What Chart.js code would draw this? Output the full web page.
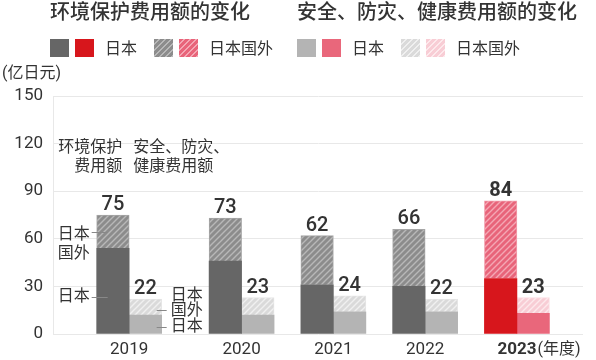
<!DOCTYPE html>
<html lang="zh">
<head>
<meta charset="utf-8">
<title>环境保护费用额的变化</title>
<script src="https://cdn.jsdelivr.net/npm/chart.js@4"></script>
<style>
  body { margin: 0; background: #fff; font-family: Roboto, "Noto Sans CJK SC", sans-serif; color: #333; }
  #wrap { position: relative; width: 596px; height: 360px; overflow: hidden; }
  #chart { position: absolute; left: 0; top: 0; }
  .title { position: absolute; top: 0; font-size: 20px; font-weight: 500; line-height: 24px; white-space: nowrap; }
  .legend { position: absolute; top: 39px; height: 18px; display: flex; align-items: center; font-size: 16px; line-height: 20px; white-space: nowrap; }
  .sw { width: 19px; height: 18px; margin-right: 6px; }
  .lbl { margin-left: 5px; margin-right: 17px; position: relative; top: 1px; }
  #unit { position: absolute; left: 2px; top: 64px; font-size: 16px; line-height: 18px; }
</style>
</head>
<body>
<div id="wrap">
  <canvas id="chart" width="596" height="360"></canvas>

  <div class="title" style="left:50px">环境保护费用额的变化</div>
  <div class="title" style="left:297px">安全、防灾、健康费用额的变化</div>

  <div class="legend" style="left:50px">
    <div class="sw" style="background:#666666"></div>
    <div class="sw" style="background:#d7161c"></div>
    <span class="lbl">日本</span>
    <div class="sw" style="background:repeating-linear-gradient(135deg,#8c8c8c 0 3px,#b8b8b8 3px 4.3px)"></div>
    <div class="sw" style="background:repeating-linear-gradient(135deg,#e8647a 0 3px,#f4a7b4 3px 4.3px)"></div>
    <span class="lbl">日本国外</span>
  </div>
  <div class="legend" style="left:297px">
    <div class="sw" style="background:#b4b4b4"></div>
    <div class="sw" style="background:#e9677b"></div>
    <span class="lbl">日本</span>
    <div class="sw" style="background:repeating-linear-gradient(135deg,#dadada 0 3px,#f0f0f0 3px 4.3px)"></div>
    <div class="sw" style="background:repeating-linear-gradient(135deg,#f8cdd5 0 3px,#fde9ec 3px 4.3px)"></div>
    <span class="lbl">日本国外</span>
  </div>

  <div id="unit">(亿日元)</div>
</div>

<script>
// ─── Data (亿日元) ───
const years = ['2019', '2020', '2021', '2022', '2023'];
const envJapan = [54, 46, 31, 30, 35];
const envOverseas = [21, 27, 31, 36, 49];
const envTotal = [75, 73, 62, 66, 84];
const safetyJapan = [12, 12, 14, 14, 13];
const safetyOverseas = [10, 11, 10, 8, 10];
const safetyTotal = [22, 23, 24, 22, 23];
const yTicks = [0, 30, 60, 90, 120, 150];

// ─── Layout helpers ───
const FONT = 'Roboto, "Noto Sans CJK SC", sans-serif';
const hi = years.length - 1;          // 2023 is drawn in red
const calloutGap = 0.225;             // extra room after 2019 for the callout labels
const slotX = i => (i === 0 ? 0 : i + calloutGap);
const pts = arr => arr.map((v, i) => ({ x: slotX(i), y: v }));

Chart.defaults.font.family = FONT;
Chart.defaults.color = '#333';

const canvas = document.getElementById('chart');
const ctx = canvas.getContext('2d');

function hatch(base, stripe) {
  const s = 6;
  const c = document.createElement('canvas');
  c.width = s; c.height = s;
  const g = c.getContext('2d');
  g.fillStyle = base;
  g.fillRect(0, 0, s, s);
  g.strokeStyle = stripe;
  g.lineWidth = 1.4;
  g.beginPath();
  g.moveTo(0, s); g.lineTo(s, 0);
  g.moveTo(-1, 1); g.lineTo(1, -1);
  g.moveTo(s - 1, s + 1); g.lineTo(s + 1, s - 1);
  g.stroke();
  return ctx.createPattern(c, 'repeat');
}

const pick = (normal, red) => c => (c.dataIndex === hi ? red : normal);

// ─── Labels drawn on the canvas ───
const labelsPlugin = {
  id: 'labels',
  afterDatasetsDraw(chart) {
    const g = chart.ctx;
    const bar = (d, i) => chart.getDatasetMeta(d).data[i];
    g.save();
    g.fillStyle = '#333';

    // totals above the bars
    g.textAlign = 'center';
    g.textBaseline = 'alphabetic';
    years.forEach((y, i) => {
      g.font = `${i === hi ? 'bold' : '500'} 20px ${FONT}`;
      const e = bar(1, i), s = bar(3, i);
      g.fillText(envTotal[i], e.x, e.y - 5);
      g.fillText(safetyTotal[i], s.x, s.y - 5);
    });

    // series names above 2019
    g.font = `16px ${FONT}`;
    g.textBaseline = 'middle';
    const top = chart.chartArea.top;
    const e0 = bar(0, 0), s0 = bar(2, 0);
    const groupX = e0.x + e0.width / 2;
    g.textAlign = 'right';
    g.fillText('环境保护', groupX - 7, top + 52);
    g.fillText('费用额', groupX - 7, top + 71);
    g.textAlign = 'left';
    g.fillText('安全、防灾、', groupX + 4, top + 52);
    g.fillText('健康费用额', groupX + 4, top + 71);

    // callouts on the 2019 bars
    g.strokeStyle = '#888';
    g.lineWidth = 1;
    const line = (x1, x2, y) => {
      g.beginPath();
      g.moveTo(x1, Math.round(y) + 0.5);
      g.lineTo(x2, Math.round(y) + 0.5);
      g.stroke();
    };
    const left = e0.x - e0.width / 2;
    const envTop = e0.y;
    g.textAlign = 'right';
    line(left - 5, left + 11, envTop - 16);
    g.fillText('日本', left - 7, envTop - 13);
    g.fillText('国外', left - 7, envTop + 6);
    line(left - 5, left + 11, e0.base - 37);
    g.fillText('日本', left - 7, e0.base - 37);

    const right = s0.x + s0.width / 2;
    const sTop = s0.y;
    g.textAlign = 'left';
    g.fillText('日本', right + 9, sTop - 19);
    line(right - 5, right + 5, sTop - 5);
    g.fillText('国外', right + 9, sTop - 4);
    line(right - 5, right + 5, sTop + 12);
    g.fillText('日本', right + 9, sTop + 12);

    // year unit after 2023
    const xs = chart.scales.x;
    g.font = `bold 17px ${FONT}`;
    const w = g.measureText(years[hi]).width;
    g.font = `16px ${FONT}`;
    g.textBaseline = 'top';
    g.fillText('(年度)', xs.getPixelForValue(slotX(hi)) + w / 2 + 1, xs.top + 8);
    g.restore();
  }
};

new Chart(ctx, {
  type: 'bar',
  data: {
    datasets: [
      {
        label: '环境保护 日本',
        stack: 'env',
        data: pts(envJapan),
        backgroundColor: pick('#666666', '#d7161c')
      },
      {
        label: '环境保护 日本国外',
        stack: 'env',
        data: pts(envOverseas),
        backgroundColor: pick(hatch('#8c8c8c', '#b8b8b8'), hatch('#e8647a', '#f4a7b4')),
        borderColor: pick('#a6a6a6', '#f2a0ad'),
        borderWidth: 1
      },
      {
        label: '安全、防灾、健康 日本',
        stack: 'safety',
        data: pts(safetyJapan),
        backgroundColor: pick('#b4b4b4', '#e9677b')
      },
      {
        label: '安全、防灾、健康 日本国外',
        stack: 'safety',
        data: pts(safetyOverseas),
        backgroundColor: pick(hatch('#dadada', '#f0f0f0'), hatch('#f8cdd5', '#fde9ec')),
        borderColor: pick('#e6e6e6', '#fbdde2'),
        borderWidth: 1
      }
    ]
  },
  options: {
    responsive: false,
    animation: false,
    devicePixelRatio: 1,
    layout: { padding: { top: 96, right: 13, bottom: 0, left: 0 } },
    datasets: { bar: { barThickness: 32.5 } },
    plugins: { legend: { display: false }, tooltip: { enabled: false } },
    scales: {
      x: {
        type: 'linear',
        offset: false,
        min: -0.83,
        max: hi + calloutGap + 0.72,
        grid: { display: false, drawTicks: false, offset: false },
        border: { display: false },
        afterBuildTicks: s => { s.ticks = years.map((y, i) => ({ value: slotX(i) })); },
        afterFit: s => { s.height = 26; },
        ticks: {
          autoSkip: false,
          maxRotation: 0,
          padding: 6,
          color: '#333',
          callback: (v, i) => years[i],
          font: c => ({ size: 17, weight: c.index === hi ? 'bold' : 'normal' })
        }
      },
      y: {
        stacked: true,
        min: 0,
        max: 150,
        grid: { color: '#e8e8e8', drawTicks: false },
        border: { color: '#e8e8e8' },
        afterBuildTicks: s => { s.ticks = yTicks.map(v => ({ value: v })); },
        afterFit: s => { s.width = 53; },
        ticks: { padding: 10, color: '#333', font: { size: 17 } }
      }
    }
  },
  plugins: [labelsPlugin]
});
</script>
</body>
</html>
